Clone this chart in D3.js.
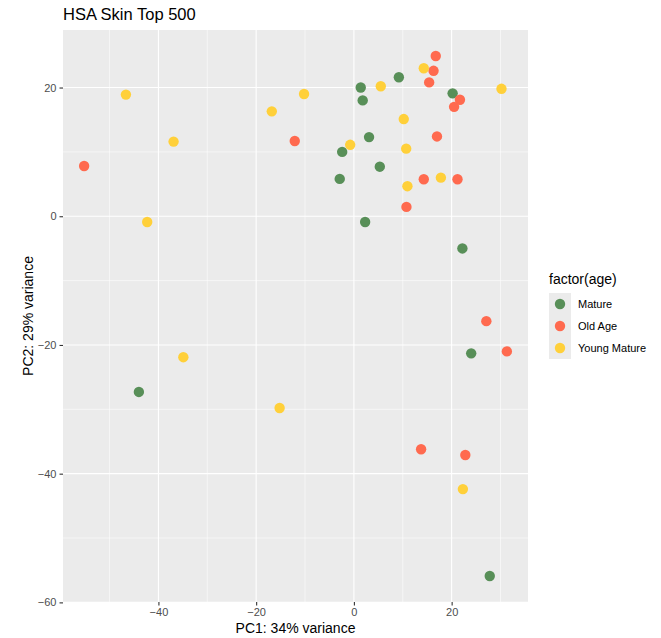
<!DOCTYPE html>
<html>
<head>
<meta charset="utf-8">
<script src="https://cdn.jsdelivr.net/npm/d3@7"></script>
<style>
  html, body { margin: 0; padding: 0; background: #fff; }
  svg { display: block; font-family: "Liberation Sans", Arial, Helvetica, sans-serif; }
</style>
</head>
<body>
<svg id="chart" width="661" height="638"></svg>
<script>
// PCA scores per sample, grouped by age factor
const groups = ["Mature", "Old Age", "Young Mature"];
const groupColors = ["#588f58", "#ff6a4f", "#ffd03a"];

const matureX = [1.4, 9.2, 1.8, 20.2, 3.1, -2.4, 5.3, -2.9, 2.3, 22.2, 24.0, -44.0, 27.8];
const matureY = [20.0, 21.6, 18.0, 19.1, 12.3, 10.0, 7.7, 5.8, -0.9, -5.0, -21.3, -27.3, -55.9];

const oldAgeX = [16.75, 16.3, 15.4, 21.7, 20.5, 17.0, 14.3, 21.2, 10.75, -12.1, -55.2, 27.1, 31.3, 13.75, 22.8];
const oldAgeY = [24.9, 22.6, 20.8, 18.1, 17.0, 12.4, 5.75, 5.75, 1.45, 11.7, 7.8, -16.3, -21.0, -36.2, -37.1];

const youngX = [14.3, 5.5, 30.2, 10.2, -0.76, 10.7, 17.8, 10.95, -46.65, -10.2, -16.8, -36.9, -42.3, -34.9, -15.2, 22.3];
const youngY = [23.0, 20.2, 19.8, 15.1, 11.1, 10.5, 6.0, 4.67, 18.9, 19.0, 16.3, 11.6, -0.9, -21.9, -29.8, -42.4];

const xTicks = [-40, -20, 0, 20];
const yTicks = [-60, -40, -20, 0, 20];
const xMinor = [-50, -30, -10, 10, 30];
const yMinor = [-50, -30, -10, 10];

const titleText = "HSA Skin Top 500";
const xLabel = "PC1: 34% variance";
const yLabel = "PC2: 29% variance";
const legendTitle = "factor(age)";

// Assemble point records
const points = [];
[[matureX, matureY], [oldAgeX, oldAgeY], [youngX, youngY]].forEach(([xs, ys], g) => {
  xs.forEach((x, i) => points.push({ x, y: ys[i], group: groups[g] }));
});

const svg = d3.select("#chart");
const panel = { left: 63, right: 528, top: 30, bottom: 602 };

// Domains padded 5% on each side
function padded(vals) {
  const [lo, hi] = d3.extent(vals);
  const p = (hi - lo) * 0.05;
  return [lo - p, hi + p];
}

const x = d3.scaleLinear().domain(padded(points.map(d => d.x))).range([panel.left, panel.right]);
const y = d3.scaleLinear().domain(padded(points.map(d => d.y))).range([panel.bottom, panel.top]);
const color = d3.scaleOrdinal().domain(groups).range(groupColors);

// Panel background
svg.append("rect")
  .attr("x", panel.left).attr("y", panel.top)
  .attr("width", panel.right - panel.left).attr("height", panel.bottom - panel.top)
  .attr("fill", "#ebebeb");

const grid = svg.append("g");
// Minor grid
grid.selectAll(".vminor").data(xMinor).join("line")
  .attr("x1", d => x(d)).attr("x2", d => x(d))
  .attr("y1", panel.top).attr("y2", panel.bottom)
  .attr("stroke", "#fff").attr("stroke-width", 0.55);
grid.selectAll(".hminor").data(yMinor).join("line")
  .attr("y1", d => y(d)).attr("y2", d => y(d))
  .attr("x1", panel.left).attr("x2", panel.right)
  .attr("stroke", "#fff").attr("stroke-width", 0.55);
// Major grid
grid.selectAll(".vmajor").data(xTicks).join("line")
  .attr("x1", d => x(d)).attr("x2", d => x(d))
  .attr("y1", panel.top).attr("y2", panel.bottom)
  .attr("stroke", "#fff").attr("stroke-width", 1.1);
grid.selectAll(".hmajor").data(yTicks).join("line")
  .attr("y1", d => y(d)).attr("y2", d => y(d))
  .attr("x1", panel.left).attr("x2", panel.right)
  .attr("stroke", "#fff").attr("stroke-width", 1.1);

// Axes
const xAxis = svg.append("g")
  .attr("transform", `translate(0,${panel.bottom})`)
  .call(d3.axisBottom(x).tickValues(xTicks).tickSize(3.5).tickPadding(3).tickFormat(d3.format("d")));
const yAxis = svg.append("g")
  .attr("transform", `translate(${panel.left},0)`)
  .call(d3.axisLeft(y).tickValues(yTicks).tickSize(3.5).tickPadding(3).tickFormat(d3.format("d")));

[xAxis, yAxis].forEach(a => {
  a.select(".domain").remove();
  a.selectAll(".tick line").attr("stroke", "#333").attr("stroke-width", 1.1);
  a.selectAll(".tick text")
    .attr("fill", "#4d4d4d")
    .style("font-size", "11px")
    .style("font-family", "'Liberation Sans', Arial, sans-serif");
});

// Points
svg.append("g").selectAll("circle").data(points).join("circle")
  .attr("cx", d => x(d.x))
  .attr("cy", d => y(d.y))
  .attr("r", 5.2)
  .attr("fill", d => color(d.group));

// Title and axis labels
svg.append("text")
  .attr("x", panel.left).attr("y", 20)
  .attr("font-size", 16.5).attr("fill", "#000")
  .text(titleText);

svg.append("text")
  .attr("x", (panel.left + panel.right) / 2).attr("y", 633)
  .attr("text-anchor", "middle")
  .attr("font-size", 14).attr("fill", "#000")
  .text(xLabel);

svg.append("text")
  .attr("transform", `translate(33,${(panel.top + panel.bottom) / 2}) rotate(-90)`)
  .attr("text-anchor", "middle")
  .attr("font-size", 14).attr("fill", "#000")
  .text(yLabel);

// Legend
const legend = svg.append("g").attr("transform", "translate(549,0)");
legend.append("text")
  .attr("x", 0).attr("y", 284)
  .attr("font-size", 14).attr("fill", "#000")
  .text(legendTitle);

const keyH = 22;
const keyTop = 293;
const keys = legend.selectAll(".key").data(groups).join("g")
  .attr("transform", (d, i) => `translate(0,${keyTop + i * keyH})`);
keys.append("rect")
  .attr("width", 22).attr("height", keyH)
  .attr("fill", "#ebebeb");
keys.append("circle")
  .attr("cx", 11).attr("cy", keyH / 2)
  .attr("r", 5.2)
  .attr("fill", d => color(d));
keys.append("text")
  .attr("x", 29).attr("y", keyH / 2 + 4)
  .attr("font-size", 11).attr("fill", "#000")
  .text(d => d);
</script>
</body>
</html>
